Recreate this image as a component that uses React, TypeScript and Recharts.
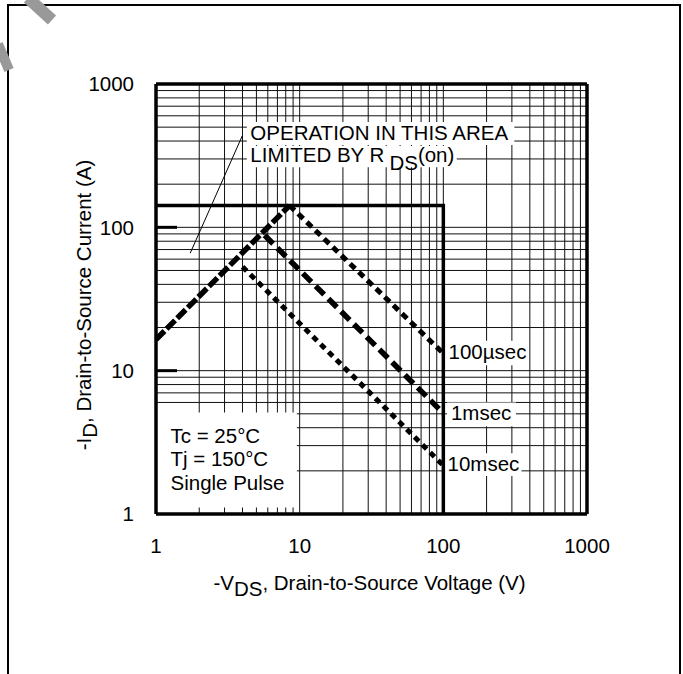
import {
    LineChart,
    Line,
    XAxis,
    YAxis,
    ReferenceArea,
    ReferenceLine,
} from "recharts";

// safe operating area (V, A)
const rdsOnLimit = [
    { v: 1, i: 16.5 },
    { v: 8.5, i: 142 },
];
const currentLimit = [
    { v: 1, i: 142 },
    { v: 100, i: 142 },
    { v: 100, i: 1 },
];
const pulse100us = [
    { v: 8.5, i: 142 },
    { v: 100, i: 13.2 },
];
const pulse1ms = [
    { v: 5.7, i: 88 },
    { v: 100, i: 5.05 },
];
const pulse10ms = [
    { v: 4.0, i: 53 },
    { v: 100, i: 2.18 },
];

const axisTicks = [1, 10, 100, 1000];
const decades = [1, 10, 100];
const steps = [2, 3, 4, 5, 6, 7, 8, 9, 10];
const gridValues = decades.flatMap((d) => steps.map((s) => d * s)).filter((g) => g < 1000);

const font = "'Liberation Sans', Arial, Helvetica, sans-serif";
const fs = 20.5;

// text lines inside a white box, offsets are relative to the box corner
const boxText =
    (lines: { dx: number; dy: number; content: any }[]) => (props: any) => {
        const { x, y } = props.viewBox;
        return (
            <g>
                {lines.map((l, k) => (
                    <text
                        key={k}
                        x={x + l.dx}
                        y={y + l.dy}
                        fontSize={fs}
                        fontFamily={font}
                        fill="#000"
                    >
                        {l.content}
                    </text>
                ))}
            </g>
        );
    };

const xTitle = (props: any) => {
    const { x, y, width } = props.viewBox;
    return (
        <text
            x={x + width / 2 - 2}
            y={y + 76}
            textAnchor="middle"
            fontSize={fs}
            fontFamily={font}
            fill="#000"
        >
            -V
            <tspan dy={6}>DS</tspan>
            <tspan dy={-6}>, Drain-to-Source Voltage (V)</tspan>
        </text>
    );
};

const yTitle = (props: any) => {
    const { y, height } = props.viewBox;
    const cx = 91;
    const cy = y + height / 2 + 6;
    return (
        <text
            x={cx}
            y={cy}
            transform={`rotate(-90 ${cx} ${cy})`}
            textAnchor="middle"
            fontSize={fs}
            fontFamily={font}
            fill="#000"
        >
            -I
            <tspan dy={6}>D</tspan>
            <tspan dy={-6}>, Drain-to-Source Current (A)</tspan>
        </text>
    );
};

const whiteBox = {
    fill: "#fff",
    fillOpacity: 1,
    stroke: "none",
    zIndex: 50,
};

export default function App() {
    return (
        <div
            style={{
                position: "absolute",
                left: 0,
                top: 0,
                width: 683,
                height: 674,
                background: "#fff",
                overflow: "hidden",
            }}
        >
            <div
                style={{
                    position: "absolute",
                    left: 7,
                    top: 4,
                    width: 670,
                    height: 700,
                    borderTop: "2px solid #000",
                    borderLeft: "2px solid #000",
                    borderRight: "2px solid #000",
                }}
            />
            <svg
                width={683}
                height={674}
                style={{ position: "absolute", left: 0, top: 0 }}
            >
                <line x1={28} y1={-2} x2={52} y2={20} stroke="#999" strokeWidth={12} />
                <line x1={-2} y1={44} x2={9} y2={70} stroke="#999" strokeWidth={10} />
            </svg>
            <LineChart
                width={683}
                height={674}
                margin={{ top: 84, right: 96, bottom: 100, left: 0 }}
                style={{ position: "absolute", left: 0, top: 0, fontFamily: font }}
            >
                <XAxis
                    dataKey="v"
                    type="number"
                    scale="log"
                    domain={[1, 1000]}
                    ticks={axisTicks}
                    allowDataOverflow
                    height={60}
                    tickSize={0}
                    tickMargin={24}
                    axisLine={false}
                    tickLine={false}
                    tick={{ fontSize: fs, fill: "#000", fontFamily: font }}
                    label={xTitle}
                />
                <YAxis
                    dataKey="i"
                    type="number"
                    scale="log"
                    domain={[1, 1000]}
                    ticks={axisTicks}
                    allowDataOverflow
                    width={156}
                    tickSize={0}
                    tickMargin={22}
                    axisLine={false}
                    tickLine={false}
                    tick={{ fontSize: fs, fill: "#000", fontFamily: font }}
                    label={yTitle}
                />

                {/* log grid */}
                {gridValues.map((g) => (
                    <ReferenceLine
                        key={"gx" + g}
                        x={g}
                        stroke="#111"
                        strokeWidth={1}
                        zIndex={-50}
                    />
                ))}
                {gridValues.map((g) => (
                    <ReferenceLine
                        key={"gy" + g}
                        y={g}
                        stroke="#111"
                        strokeWidth={1}
                        zIndex={-50}
                    />
                ))}

                {/* white boxes behind the annotations */}
                <ReferenceArea
                    x1={4.29}
                    x2={312}
                    y1={375}
                    y2={543}
                    {...whiteBox}
                    label={boxText([
                        { dx: 3.5, dy: 18, content: "OPERATION IN THIS AREA" },
                    ])}
                />
                <ReferenceArea
                    x1={4.29}
                    x2={124}
                    y1={263}
                    y2={369}
                    {...whiteBox}
                    label={boxText([
                        {
                            dx: 3.5,
                            dy: 16,
                            content: (
                                <>
                                    LIMITED BY R
                                    <tspan dx={5} dy={8}>
                                        DS
                                    </tspan>
                                    <tspan dy={-8}>(on)</tspan>
                                </>
                            ),
                        },
                    ])}
                />
                <ReferenceArea
                    x1={1}
                    x2={9.56}
                    y1={1.11}
                    y2={5.11}
                    {...whiteBox}
                    label={boxText([
                        { dx: 14.5, dy: 31, content: "Tc = 25°C" },
                        { dx: 14.5, dy: 54, content: "Tj = 150°C" },
                        { dx: 14.5, dy: 78, content: "Single Pulse" },
                    ])}
                />
                <ReferenceArea
                    x1={102}
                    x2={385}
                    y1={10.9}
                    y2={16.2}
                    {...whiteBox}
                    label={boxText([{ dx: 4, dy: 18, content: "100µsec" }])}
                />
                <ReferenceArea
                    x1={106}
                    x2={320}
                    y1={4.1}
                    y2={6.0}
                    {...whiteBox}
                    label={boxText([{ dx: 4, dy: 18, content: "1msec" }])}
                />
                <ReferenceArea
                    x1={102}
                    x2={350}
                    y1={1.84}
                    y2={2.65}
                    {...whiteBox}
                    label={boxText([{ dx: 3, dy: 18, content: "10msec" }])}
                />

                {/* pointer to the RDS(on) line */}
                <ReferenceLine
                    segment={[
                        { x: 3.99, y: 436 },
                        { x: 1.73, y: 66 },
                    ]}
                    stroke="#000"
                    strokeWidth={1}
                    zIndex={60}
                />
                {/* heavy decade ticks on the left */}
                <ReferenceLine
                    segment={[
                        { x: 1, y: 100 },
                        { x: 1.4, y: 100 },
                    ]}
                    stroke="#000"
                    strokeWidth={3}
                    zIndex={60}
                />
                <ReferenceLine
                    segment={[
                        { x: 1, y: 10 },
                        { x: 1.4, y: 10 },
                    ]}
                    stroke="#000"
                    strokeWidth={3}
                    zIndex={60}
                />
                {/* plot frame */}
                <ReferenceLine x={1} stroke="#000" strokeWidth={3.5} zIndex={60} />
                <ReferenceLine x={1000} stroke="#000" strokeWidth={3.5} zIndex={60} />
                <ReferenceLine y={1} stroke="#000" strokeWidth={3.5} zIndex={60} />
                <ReferenceLine y={1000} stroke="#000" strokeWidth={3.5} zIndex={60} />

                <Line
                    data={currentLimit}
                    dataKey="i"
                    type="linear"
                    stroke="#000"
                    strokeWidth={3.5}
                    dot={false}
                    activeDot={false}
                    isAnimationActive={false}
                />
                <Line
                    data={rdsOnLimit}
                    dataKey="i"
                    type="linear"
                    stroke="#000"
                    strokeWidth={5.5}
                    strokeDasharray="12 3"
                    dot={false}
                    activeDot={false}
                    isAnimationActive={false}
                />
                <Line
                    data={pulse100us}
                    dataKey="i"
                    type="linear"
                    stroke="#000"
                    strokeWidth={5}
                    strokeDasharray="7 5"
                    dot={false}
                    activeDot={false}
                    isAnimationActive={false}
                />
                <Line
                    data={pulse1ms}
                    dataKey="i"
                    type="linear"
                    stroke="#000"
                    strokeWidth={5.5}
                    strokeDasharray="12 6"
                    dot={false}
                    activeDot={false}
                    isAnimationActive={false}
                />
                <Line
                    data={pulse10ms}
                    dataKey="i"
                    type="linear"
                    stroke="#000"
                    strokeWidth={5}
                    strokeDasharray="6 5"
                    dot={false}
                    activeDot={false}
                    isAnimationActive={false}
                />
            </LineChart>
        </div>
    );
}
